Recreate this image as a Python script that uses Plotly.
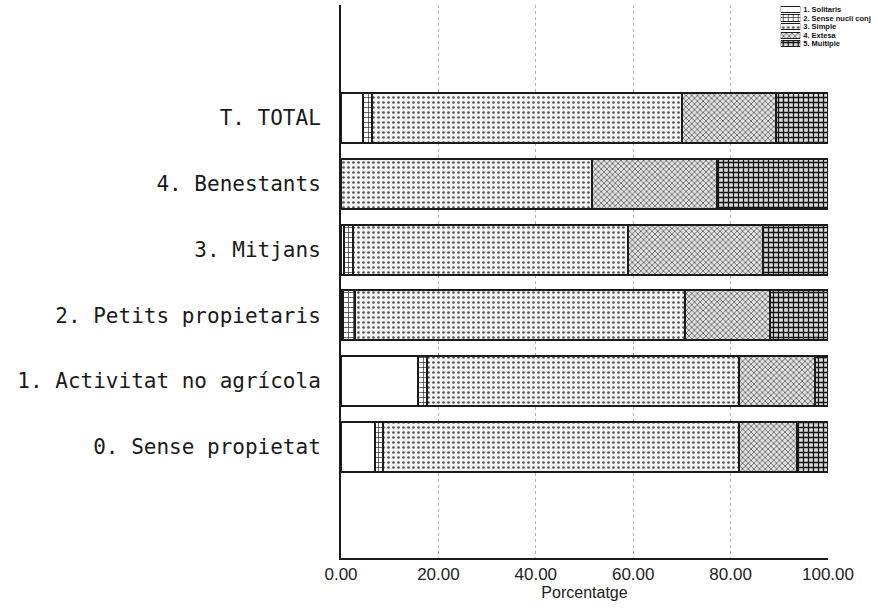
import plotly.graph_objects as go

# Household structure by property group (percent of households)
categories = [
    "0. Sense propietat",
    "1. Activitat no agrícola",
    "2. Petits propietaris",
    "3. Mitjans",
    "4. Benestants",
    "T. TOTAL",
]
solitaris = [7.0, 15.8, 0.4, 0.6, 0.0, 4.5]
sense_nucli = [1.6, 1.9, 2.5, 1.9, 0.0, 1.9]
simple = [73.1, 64.0, 67.7, 56.4, 51.5, 63.6]
extesa = [11.9, 15.6, 17.5, 27.8, 25.7, 19.3]
multiple = [6.4, 2.7, 11.9, 13.3, 22.8, 10.7]

series_names = [
    "1. Solitaris",
    "2. Sense nucli conj",
    "3. Simple",
    "4. Extesa",
    "5. Multiple",
]
x_ticks = [0, 20, 40, 60, 80, 100]

# Hatch styles for each household type
patterns = [
    dict(shape="", fillmode="replace"),
    dict(shape="+", size=5, solidity=0.25, fgcolor="#222", bgcolor="white", fillmode="replace"),
    dict(shape=".", size=5, solidity=0.22, fgcolor="#555", bgcolor="#f4f4f4", fillmode="replace"),
    dict(shape="x", size=4, solidity=0.35, fgcolor="#555", bgcolor="#e2e2e2", fillmode="replace"),
    dict(shape="+", size=5, solidity=0.45, fgcolor="#111", bgcolor="#dcdcdc", fillmode="replace"),
]
values = [solitaris, sense_nucli, simple, extesa, multiple]

fig = go.Figure()
for name, vals, pat in zip(series_names, values, patterns):
    fig.add_trace(go.Bar(
        x=vals, y=categories, orientation="h", name=name,
        width=0.76,
        marker=dict(color="white", pattern=pat,
                    line=dict(color="#1a1a1a", width=2)),
        showlegend=False,
    ))

# Compact key in the top-right corner: one swatch per household type
for name, pat in zip(series_names, patterns):
    fig.add_trace(go.Bar(
        x=[1], y=[name], orientation="h", width=0.72,
        xaxis="x2", yaxis="y2", showlegend=False, hoverinfo="skip",
        marker=dict(color="white", pattern=pat,
                    line=dict(color="#1a1a1a", width=1)),
    ))

fig.update_layout(
    width=878, height=611,
    margin=dict(l=341, r=50, t=5, b=53),
    paper_bgcolor="white", plot_bgcolor="white",
    barmode="stack",
    bargap=0.24,
    xaxis=dict(
        range=[0, 100],
        tickvals=x_ticks,
        ticktext=[f"{v:.2f}" for v in x_ticks],
        showgrid=False,
        minor=dict(tickvals=[20, 40, 60, 80], showgrid=True,
                   gridcolor="#b4b4b4", griddash="dot", gridwidth=1, ticks=""),
        showline=True, linecolor="#1a1a1a", linewidth=2,
        ticks="", zeroline=False,
        tickfont=dict(family="Liberation Sans", size=17, color="#222"),
        title=dict(text="Porcentatge", standoff=0,
                   font=dict(family="Liberation Sans", size=16, color="#222")),
        automargin=False,
    ),
    yaxis=dict(
        categoryorder="array", categoryarray=categories,
        range=[-1.69, 6.72],
        showline=True, linecolor="#1a1a1a", linewidth=2,
        showgrid=False, zeroline=False, ticks="",
        ticklabelstandoff=14,
        tickfont=dict(family="DejaVu Sans Mono", size=21, color="#1a1a1a"),
        automargin=False,
    ),
    xaxis2=dict(
        domain=[0.903, 0.943], range=[0, 1], anchor="y2",
        showline=False, showgrid=False, zeroline=False,
        showticklabels=False, ticks="", fixedrange=True,
        automargin=False,
    ),
    yaxis2=dict(
        domain=[0.922, 1.0], anchor="x2", side="right",
        categoryorder="array", categoryarray=series_names[::-1],
        tickmode="array", tickvals=series_names, ticktext=series_names,
        showline=False, showgrid=False, zeroline=False, ticks="",
        ticklabelstandoff=2,
        tickfont=dict(family="Liberation Sans", size=7.5, color="#111",
                      weight="bold"),
        fixedrange=True, automargin=False,
    ),
    font=dict(family="Liberation Sans", color="#222"),
)

fig.write_html("out.html")
